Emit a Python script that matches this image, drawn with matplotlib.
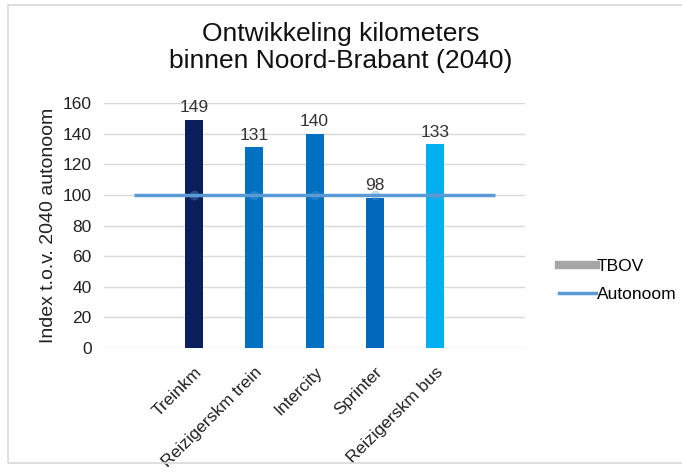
import matplotlib
matplotlib.use("Agg")
from matplotlib import pyplot as plt
from matplotlib.patches import Rectangle
from matplotlib.lines import Line2D

plt.rcParams["font.family"] = ["Liberation Sans", "DejaVu Sans"]

categories = ["", "Treinkm", "Reizigerskm trein", "Intercity", "Sprinter", "Reizigerskm bus", ""]
tbov = [None, 149, 131, 140, 98, 133, None]
autonoom = [100, 100, 100, 100, 100, 100, 100]
bar_colors = ["#0b1f5c", "#0070c0", "#0070c0", "#0068ba", "#00b0f0"]

fig = plt.figure(figsize=(6.82, 4.75), dpi=100)
ax = fig.add_axes([0.1525, 0.2674, 0.6175, 0.5156])

x = list(range(len(categories)))
bx = [i for i in x if tbov[i] is not None]
bv = [tbov[i] for i in bx]
ax.bar(bx, bv, width=0.3, color=bar_colors, zorder=2)
for xi, v in zip(bx, bv):
    ax.text(xi, v + 3, str(v), ha="center", va="bottom", fontsize=12.5, color="#333333")

ax.plot(x, autonoom, color="#5b9bd5", lw=2.5, zorder=3, solid_capstyle="butt")
ax.plot(bx, [100] * len(bx), ls="none", marker="o", ms=7, color="#5b9bd5",
        alpha=0.35, markeredgewidth=0, zorder=3)

ax.set_xlim(-0.5, len(categories) - 0.5)
ax.set_ylim(0, 160)
ax.set_yticks(range(0, 161, 20))
ax.grid(axis="y", color="#d9d9d9", lw=1, zorder=0)
ax.set_axisbelow(True)
for s in ax.spines.values():
    s.set_visible(False)
ax.tick_params(length=0, labelsize=12.5, labelcolor="#222222")
ax.tick_params(axis="y", pad=9)
ax.set_xticks(x)
ax.set_xticklabels(categories, rotation=45, ha="right", rotation_mode="anchor")
ax.tick_params(axis="x", pad=12)
ax.set_ylabel("Index t.o.v. 2040 autonoom", fontsize=14, color="#222222", labelpad=4)

fig.suptitle("Ontwikkeling kilometers\nbinnen Noord-Brabant (2040)", fontsize=19,
             y=0.954, x=0.5, va="top", color="#111111", linespacing=1.15)

handles = [Line2D([0], [0], color="#a6a6a6", lw=6),
           Line2D([0], [0], color="#5b9bd5", lw=2.5)]
fig.legend(handles, ["TBOV", "Autonoom"], loc="center left", bbox_to_anchor=(0.797, 0.41),
           frameon=False, fontsize=12.5, handlelength=2.1, handletextpad=0.05, labelspacing=0.75)

fig.add_artist(Rectangle((0.012, 0.025), 1.2, 0.965, transform=fig.transFigure,
                         fill=False, edgecolor="#d9d9d9", lw=1.2))

fig.savefig("out.png", dpi=100)
